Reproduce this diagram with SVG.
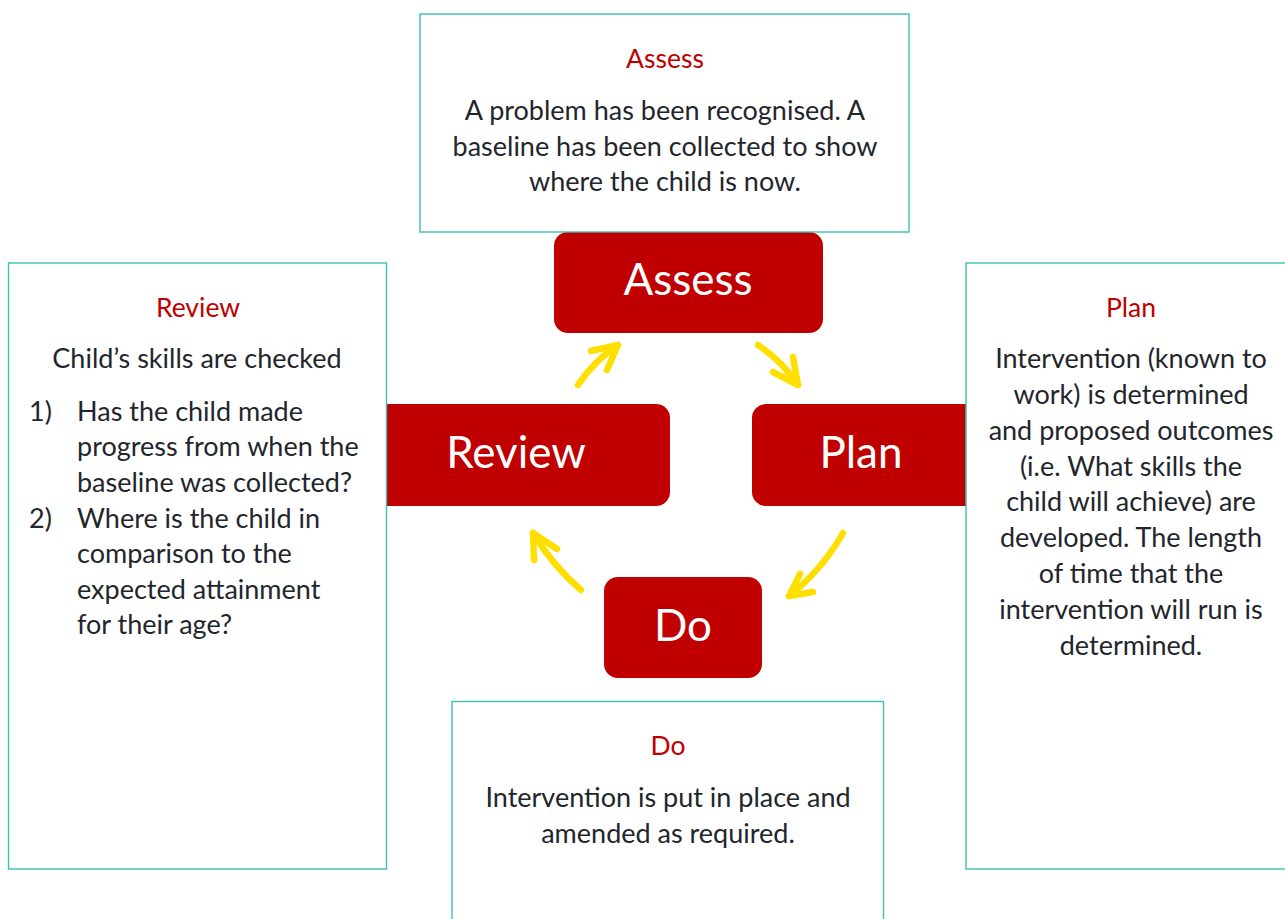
<svg xmlns="http://www.w3.org/2000/svg" width="1285" height="919" viewBox="0 0 1285 919">
  <defs>
    <style>
      .box { fill: #ffffff; stroke: #3CBFB6; stroke-width: 1.4; }
      .node { fill: #C00000; }
      .nlabel { font-family: Lato, "Liberation Sans", sans-serif; font-size: 44px; fill: #ffffff; text-anchor: middle; }
      .title { font-family: Lato, "Liberation Sans", sans-serif; font-size: 26.5px; fill: #C00000; text-anchor: middle; }
      .body { font-family: Lato, "Liberation Sans", sans-serif; font-size: 27px; fill: #22262C; text-anchor: middle; }
      .list { font-family: Lato, "Liberation Sans", sans-serif; font-size: 27px; fill: #22262C; }
      .arrow { fill: none; stroke: #FFDF00; stroke-width: 6.5; stroke-linecap: round; stroke-linejoin: round; }
    </style>
  </defs>

  <rect width="1285" height="919" fill="#ffffff"/>

  <!-- cycle nodes -->
  <g id="node-assess">
    <rect class="node" x="554" y="232" width="269" height="101" rx="14"/>
    <text class="nlabel" x="688" y="295">Assess</text>
  </g>
  <g id="node-review">
    <rect class="node" x="360" y="404" width="310" height="102" rx="14"/>
    <text class="nlabel" x="516" y="468">Review</text>
  </g>
  <g id="node-plan">
    <rect class="node" x="752" y="404" width="280" height="102" rx="14"/>
    <text class="nlabel" x="861" y="468">Plan</text>
  </g>
  <g id="node-do">
    <rect class="node" x="604" y="577" width="158" height="101" rx="14"/>
    <text class="nlabel" x="683" y="641">Do</text>
  </g>

  <!-- connectors -->
  <g id="connectors">
    <path class="arrow" d="M578,385 Q594,361 618,345"/>
    <path class="arrow" d="M591,351 L618,345 L607,370"/>
    <path class="arrow" d="M758,345 Q782,361 798,385"/>
    <path class="arrow" d="M793,357 L798,385 L773,372"/>
    <path class="arrow" d="M843,533 Q822,570 789,596"/>
    <path class="arrow" d="M800,574 L789,596 L813,592"/>
    <path class="arrow" d="M581,590 Q553,566 533,533"/>
    <path class="arrow" d="M534,560 L533,533 L557,549"/>
  </g>

  <!-- description boxes -->
  <g id="box-assess">
    <rect class="box" x="420" y="14" width="489" height="218"/>
    <text class="title" x="665" y="68">Assess</text>
    <text class="body" x="665" y="120">A problem has been recognised. A</text>
    <text class="body" x="665" y="156">baseline has been collected to show</text>
    <text class="body" x="665" y="191">where the child is now.</text>
  </g>
  <g id="box-review">
    <rect class="box" x="8.5" y="263" width="378" height="606"/>
    <text class="title" x="198" y="317">Review</text>
    <text class="body" x="197" y="368">Child’s skills are checked</text>
    <text class="list" x="29" y="420.7">1)</text>
    <text class="list" x="77" y="420.7">Has the child made</text>
    <text class="list" x="77" y="456.3">progress from when the</text>
    <text class="list" x="77" y="491.9">baseline was collected?</text>
    <text class="list" x="29" y="527.5">2)</text>
    <text class="list" x="77" y="527.5">Where is the child in</text>
    <text class="list" x="77" y="563.1">comparison to the</text>
    <text class="list" x="77" y="598.7">expected attainment</text>
    <text class="list" x="77" y="634.3">for their age?</text>
  </g>
  <g id="box-plan">
    <rect class="box" x="966" y="263" width="330" height="606"/>
    <text class="title" x="1131" y="317">Plan</text>
    <text class="body" x="1131" y="368">Intervention (known to</text>
    <text class="body" x="1131" y="404">work) is determined</text>
    <text class="body" x="1131" y="440">and proposed outcomes</text>
    <text class="body" x="1131" y="476">(i.e. What skills the</text>
    <text class="body" x="1131" y="511">child will achieve) are</text>
    <text class="body" x="1131" y="547">developed. The length</text>
    <text class="body" x="1131" y="583">of time that the</text>
    <text class="body" x="1131" y="619">intervention will run is</text>
    <text class="body" x="1131" y="655">determined.</text>
  </g>
  <g id="box-do">
    <rect class="box" x="452" y="701.5" width="431.5" height="240"/>
    <text class="title" x="668" y="755">Do</text>
    <text class="body" x="668" y="807">Intervention is put in place and</text>
    <text class="body" x="668" y="843">amended as required.</text>
  </g>
</svg>
